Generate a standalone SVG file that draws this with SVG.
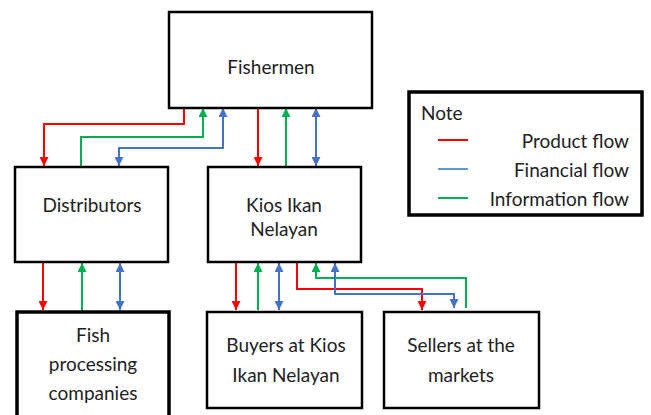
<svg xmlns="http://www.w3.org/2000/svg" width="651" height="415" viewBox="0 0 651 415">
<defs>
<marker id="ar" viewBox="0 0 10 10" refX="10" refY="5" markerWidth="4.5" markerHeight="4.5" orient="auto-start-reverse" markerUnits="strokeWidth"><path d="M0,0 L10,5 L0,10 Z" fill="#FF0000"/></marker>
<marker id="ag" viewBox="0 0 10 10" refX="10" refY="5" markerWidth="4.5" markerHeight="4.5" orient="auto-start-reverse" markerUnits="strokeWidth"><path d="M0,0 L10,5 L0,10 Z" fill="#00B050"/></marker>
<marker id="ab" viewBox="0 0 10 10" refX="10" refY="5" markerWidth="4.5" markerHeight="4.5" orient="auto-start-reverse" markerUnits="strokeWidth"><path d="M0,0 L10,5 L0,10 Z" fill="#4472C4"/></marker>
</defs>
<style>
.box{fill:#fff;stroke:#000;stroke-width:2.5}
.thick{stroke-width:3.5}
.t{font-family:Lato,"Open Sans","Liberation Sans",sans-serif;font-size:19px;fill:#222;text-anchor:middle}
.lt{font-family:Lato,"Open Sans","Liberation Sans",sans-serif;font-size:19px;fill:#222}
.r{fill:none;stroke:#FF0000;stroke-width:2}
.g{fill:none;stroke:#00B050;stroke-width:2}
.b{fill:none;stroke:#4472C4;stroke-width:2}
</style>
<rect width="651" height="415" fill="#fff"/>
<g id="connectors">
<path class="r" d="M184,108 V124 H44 V166" marker-end="url(#ar)"/>
<path class="g" d="M81,166 V137 H203 V108" marker-end="url(#ag)"/>
<path class="b" d="M223,108 V148 H119 V166" marker-start="url(#ab)" marker-end="url(#ab)"/>
<path class="r" d="M258,108 V166" marker-end="url(#ar)"/>
<path class="g" d="M286,166 V108" marker-end="url(#ag)"/>
<path class="b" d="M316,108 V166" marker-start="url(#ab)" marker-end="url(#ab)"/>
<path class="r" d="M43,263 V310" marker-end="url(#ar)"/>
<path class="g" d="M82,310 V263" marker-end="url(#ag)"/>
<path class="b" d="M120,263 V310" marker-start="url(#ab)" marker-end="url(#ab)"/>
<path class="r" d="M236,263 V310" marker-end="url(#ar)"/>
<path class="g" d="M258,310 V263" marker-end="url(#ag)"/>
<path class="b" d="M279,263 V310" marker-start="url(#ab)" marker-end="url(#ab)"/>
<path class="r" d="M297,263 V289 H422 V310" marker-end="url(#ar)"/>
<path class="g" d="M466,308 V278 H316 V263" marker-end="url(#ag)"/>
<path class="b" d="M335,263 V294 H454 V308" marker-start="url(#ab)" marker-end="url(#ab)"/>
</g>
<g id="fishermen">
<rect class="box" x="169" y="12" width="203" height="96"/>
<text class="t" x="271" y="74">Fishermen</text>
</g>
<g id="distributors">
<rect class="box" x="15" y="167" width="153" height="95"/>
<text class="t" x="92" y="212">Distributors</text>
</g>
<g id="kios">
<rect class="box" x="208" y="167" width="153" height="95"/>
<text class="t" x="284" y="212">Kios Ikan</text>
<text class="t" x="284" y="236">Nelayan</text>
</g>
<g id="fish-processing">
<rect class="box thick" x="17" y="312" width="152" height="110"/>
<text class="t" x="93" y="342">Fish</text>
<text class="t" x="93" y="371">processing</text>
<text class="t" x="93" y="400">companies</text>
</g>
<g id="buyers">
<rect class="box" x="207" y="312" width="155" height="96"/>
<text class="t" x="286" y="352">Buyers at Kios</text>
<text class="t" x="286" y="382">Ikan Nelayan</text>
</g>
<g id="sellers">
<rect class="box" x="384" y="312" width="155" height="96"/>
<text class="t" x="461" y="352">Sellers at the</text>
<text class="t" x="461" y="382">markets</text>
</g>
<g id="legend">
<rect class="box thick" x="409" y="92" width="233" height="123"/>
<text class="lt" x="421" y="120">Note</text>
<line x1="438" y1="140" x2="468" y2="140" stroke="#FF0000" stroke-width="2"/>
<line x1="438" y1="169" x2="468" y2="169" stroke="#5B9BD5" stroke-width="2"/>
<line x1="438" y1="198" x2="468" y2="198" stroke="#00B050" stroke-width="2"/>
<text class="lt" x="629" y="148" text-anchor="end">Product flow</text>
<text class="lt" x="629" y="177" text-anchor="end">Financial flow</text>
<text class="lt" x="629" y="206" text-anchor="end">Information flow</text>
</g>
</svg>
